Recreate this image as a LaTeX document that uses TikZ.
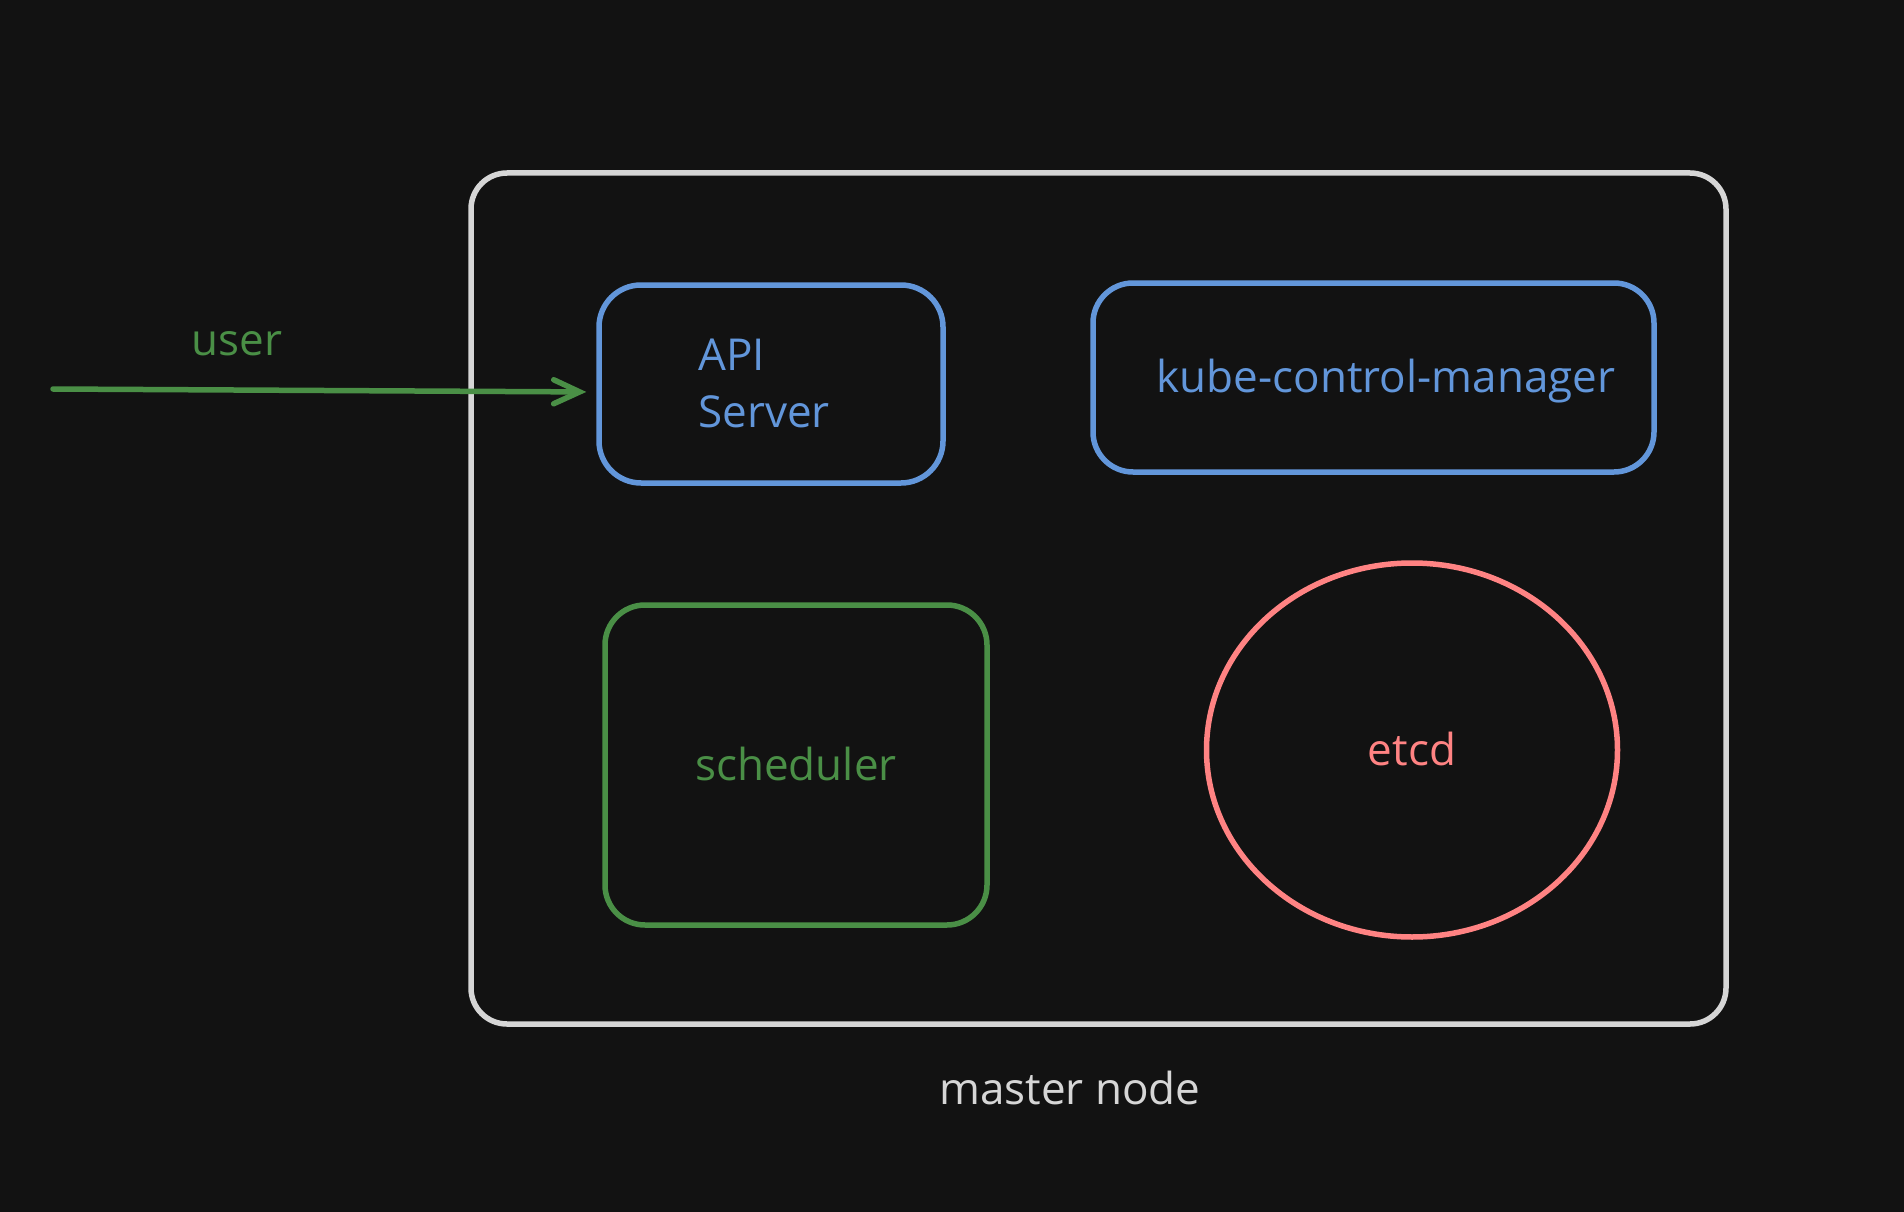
\documentclass[tikz,border=0pt]{standalone}
\usepackage{fontspec}
\setmainfont{Open Sans}
\usetikzlibrary{arrows.meta,shapes.geometric}
\definecolor{bgc}{HTML}{121212}
\definecolor{whitec}{HTML}{D6D6D6}
\definecolor{bluec}{HTML}{6296DA}
\definecolor{greenc}{HTML}{4A8F46}
\definecolor{redc}{HTML}{FF8383}
\tikzset{
  txt/.style={font=\fontsize{44pt}{57pt}\selectfont, inner sep=0pt},
  ctxt/.style={txt, text height=30pt, text depth=0pt},
  box/.style={draw, rectangle, line width=5.5pt, inner sep=0pt},
}
\begin{document}
\begin{tikzpicture}[x=1pt,y=-1pt]
\fill[bgc] (0,0) rectangle (1904,1212);
\useasboundingbox (0,0) rectangle (1904,1212);
% outer master node box
\node[box, draw=whitec, rounded corners=36pt, minimum width=1255pt, minimum height=851pt] (master) at (1098.5,598.5) {};
\node[txt, text=whitec, anchor=base] (masterlbl) at (1070,1104) {master node};
% API server
\node[box, draw=bluec, rounded corners=42pt, minimum width=344pt, minimum height=198pt] (api) at (771,384) {};
\node[txt, text=bluec, align=left, anchor=base west] (apitext) at (698,427) {API\\Server};
% kube-control-manager
\node[box, draw=bluec, text=bluec, ctxt, rounded corners=40pt, minimum width=561pt, minimum height=189pt] (kcm) at (1373.5,377.5) {\hspace*{25pt}kube-control-manager};
% scheduler
\node[box, draw=greenc, text=greenc, ctxt, rounded corners=40pt, minimum width=382pt, minimum height=320pt] (sched) at (796,765) {scheduler};
% etcd
\node[draw=redc, text=redc, ctxt, ellipse, line width=5.5pt, minimum width=411pt, minimum height=374pt] (etcd) at (1412,750) {etcd};
% user arrow
\coordinate (userstart) at (53,389);
\draw[greenc, line width=5.5pt, line cap=round, -{Straight Barb[length=26pt,width=24pt,line cap=round]}, shorten >=10pt] (userstart) -- ([yshift=-8pt]api.west);
\node[txt, text=greenc, anchor=base] (userlbl) at (237,355) {user};
\end{tikzpicture}
\end{document}
